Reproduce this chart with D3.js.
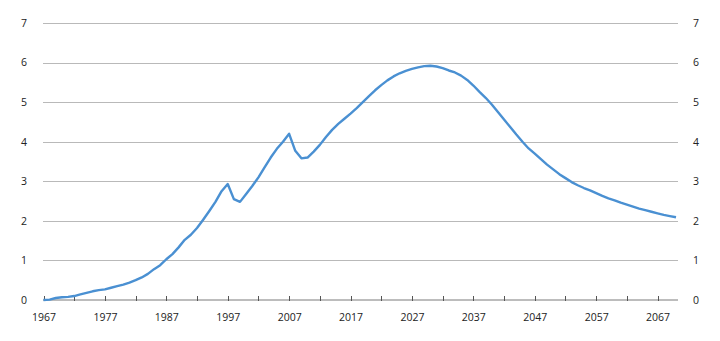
<!DOCTYPE html>
<html lang="no">
<head>
    <meta charset="UTF-8">
    <script src="https://d3js.org/d3.v7.min.js"></script>
    <title>Linjediagram</title>
    <style>
        body { margin: 0; background: #fff; }
        text { font-family: "Open Sans", sans-serif; font-size: 10.5px; fill: #222; }
    </style>
</head>
<body>
<div id="grafico"></div>
<script>
    // verdier lest av figuren, ett tall per år fra 1967
    var startAar = 1967
    var verdier = [
        0.00, 0.01, 0.05, 0.07, 0.08, 0.10, 0.14, 0.18, 0.22, 0.25,
        0.27, 0.31, 0.35, 0.39, 0.44, 0.50, 0.57, 0.66, 0.78, 0.88,
        1.03, 1.16, 1.33, 1.52, 1.65, 1.82, 2.03, 2.25, 2.48, 2.75,
        2.93, 2.55, 2.48, 2.68, 2.88, 3.10, 3.35, 3.60, 3.82, 4.00,
        4.20, 3.77, 3.58, 3.60, 3.75, 3.92, 4.12, 4.30, 4.45, 4.58,
        4.71, 4.85, 5.00, 5.15, 5.30, 5.43, 5.55, 5.65, 5.73, 5.79,
        5.84, 5.88, 5.91, 5.92, 5.90, 5.86, 5.80, 5.75, 5.67, 5.56,
        5.42, 5.26, 5.11, 4.94, 4.75, 4.56, 4.37, 4.18, 4.00, 3.83,
        3.70, 3.56, 3.42, 3.30, 3.18, 3.08, 2.98, 2.90, 2.83, 2.77,
        2.70, 2.63, 2.57, 2.52, 2.46, 2.41, 2.36, 2.31, 2.27, 2.23,
        2.19, 2.15, 2.12, 2.09
    ]
    var aar = verdier.map((v, i) => startAar + i)
    var yTicks = [0, 1, 2, 3, 4, 5, 6, 7]
    var xLabels = [1967, 1977, 1987, 1997, 2007, 2017, 2027, 2037, 2047, 2057, 2067]
    var xMarks = d3.range(1967, 2071, 5)

    var svg = d3.select('#grafico')
        .append('svg')
        .attr('width', 720)
        .attr('height', 341)

    var xScale = d3.scaleLinear()
        .domain([aar[0], aar[aar.length - 1]])
        .range([43.5, 676])

    var yScale = d3.scaleLinear()
        .domain([0, 7])
        .range([300, 23])

    // rutenett
    svg.append('g')
        .selectAll('line')
        .data(yTicks.filter(d => d > 0))
        .enter()
        .append('line')
        .attr('x1', 43)
        .attr('x2', 678)
        .attr('y1', d => Math.round(yScale(d)) + 0.5)
        .attr('y2', d => Math.round(yScale(d)) + 0.5)
        .attr('stroke', '#b9b9b9')
        .attr('stroke-width', 1)

    // y-akse venstre og høyre
    var yLeft = d3.axisLeft(yScale).tickValues(yTicks).tickFormat(d3.format('d')).tickSize(0).tickPadding(0)
    svg.append('g')
        .attr('transform', 'translate(24, 0)')
        .call(yLeft)
        .call(g => g.select('.domain').remove())
        .selectAll('text')
        .attr('text-anchor', 'middle')

    var yRight = d3.axisRight(yScale).tickValues(yTicks).tickFormat(d3.format('d')).tickSize(0).tickPadding(0)
    svg.append('g')
        .attr('transform', 'translate(696, 0)')
        .call(yRight)
        .call(g => g.select('.domain').remove())
        .selectAll('text')
        .attr('text-anchor', 'middle')

    // x-akse
    var xAxis = d3.axisBottom(xScale)
        .tickValues(xLabels)
        .tickFormat(d3.format('d'))
        .tickSize(0)
        .tickPadding(14)
    svg.append('g')
        .attr('transform', 'translate(0, 300)')
        .call(xAxis)
        .call(g => g.select('.domain').remove())

    svg.append('line')
        .attr('x1', 43)
        .attr('x2', 678)
        .attr('y1', 300)
        .attr('y2', 300)
        .attr('stroke', '#7a7a7a')
        .attr('stroke-width', 1)

    svg.append('g')
        .selectAll('line')
        .data(xMarks)
        .enter()
        .append('line')
        .attr('x1', d => Math.round(xScale(d)) + 0.5)
        .attr('x2', d => Math.round(xScale(d)) + 0.5)
        .attr('y1', 296)
        .attr('y2', 301)
        .attr('stroke', '#555')
        .attr('stroke-width', 1)

    // linje
    var linje = d3.line()
        .x((d, i) => xScale(aar[i]))
        .y(d => yScale(d))

    svg.append('path')
        .datum(verdier)
        .attr('d', linje)
        .attr('fill', 'none')
        .attr('stroke', '#4a90d2')
        .attr('stroke-width', 2.4)
        .attr('stroke-linejoin', 'round')
</script>
</body>
</html>
